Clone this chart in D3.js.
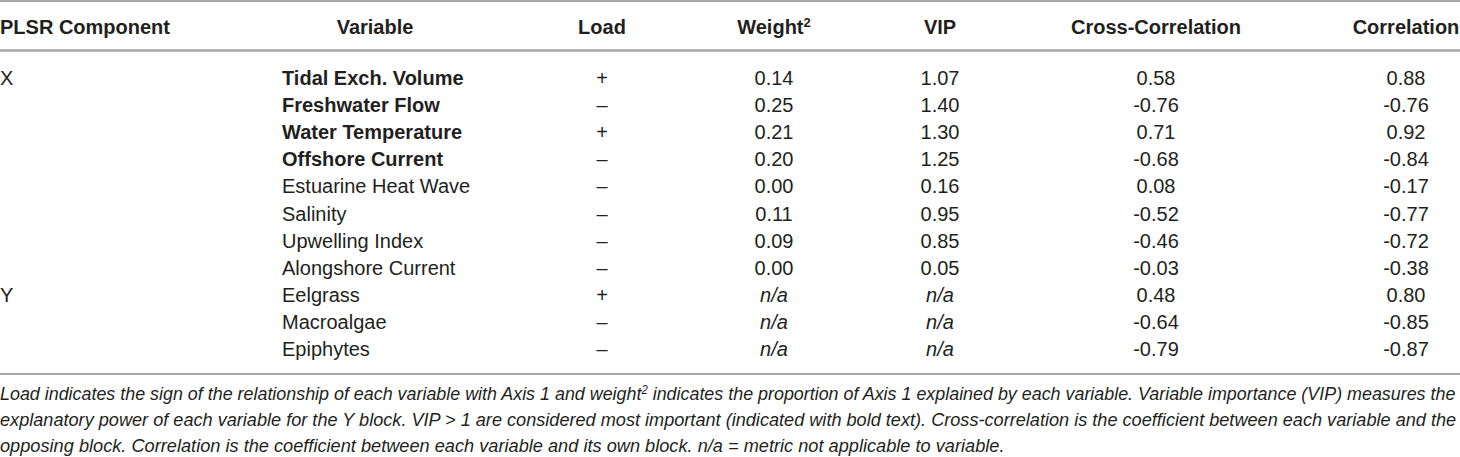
<!DOCTYPE html>
<html>
<head>
<meta charset="utf-8">
<script src="https://cdn.jsdelivr.net/npm/d3@7"></script>
<style>
  body { margin: 0; background: #fff; }
  svg text { font-family: "Liberation Sans", Arial, sans-serif; fill: #231f20; }
</style>
</head>
<body>
<div id="general"></div>
<script>
const w = 1460, h = 457;

// table data
const headers = ["PLSR Component", "Variable", "Load", "Weight", "VIP", "Cross-Correlation", "Correlation"];
const components = ["X", "X", "X", "X", "X", "X", "X", "X", "Y", "Y", "Y"];
const variables = ["Tidal Exch. Volume", "Freshwater Flow", "Water Temperature", "Offshore Current",
  "Estuarine Heat Wave", "Salinity", "Upwelling Index", "Alongshore Current",
  "Eelgrass", "Macroalgae", "Epiphytes"];
const loads = ["+", "–", "+", "–", "–", "–", "–", "–", "+", "–", "–"];
const weights = [0.14, 0.25, 0.21, 0.20, 0.00, 0.11, 0.09, 0.00, null, null, null];
const vips = [1.07, 1.40, 1.30, 1.25, 0.16, 0.95, 0.85, 0.05, null, null, null];
const crossCorr = [0.58, -0.76, 0.71, -0.68, 0.08, -0.52, -0.46, -0.03, 0.48, -0.64, -0.79];
const corr = [0.88, -0.76, 0.92, -0.84, -0.17, -0.77, -0.72, -0.38, 0.80, -0.85, -0.87];

const captionLines = [
  ["Load indicates the sign of the relationship of each variable with Axis 1 and weight", "2",
   " indicates the proportion of Axis 1 explained by each variable. Variable importance (VIP) measures the"],
  ["explanatory power of each variable for the Y block. VIP > 1 are considered most important (indicated with bold text). Cross-correlation is the coefficient between each variable and the"],
  ["opposing block. Correlation is the coefficient between each variable and its own block. n/a = metric not applicable to variable."]
];

const fmt = d3.formatLocale({ decimal: ".", thousands: ",", grouping: [3], currency: ["", ""], minus: "-" }).format(".2f");

const svg = d3.select("#general").append("svg")
  .attr("width", w).attr("height", h)
  .attr("viewBox", `0 0 ${w} ${h}`);

// column centres (first column is left aligned)
const colX = d3.scaleOrdinal().domain(headers).range([0, 375, 602, 774, 940, 1156, 1406]);
const rowY = d3.scalePoint().domain(d3.range(variables.length)).range([85, 356]);
const headerY = 34;
const fs = 20;

// rules
const rules = [
  { y: 1, c: "#a7a7a7", sw: 2 },
  { y: 50.5, c: "#a7a7a7", sw: 2.5 },
  { y: 374, c: "#8c8c8c", sw: 1.5 }
];
svg.selectAll(".rule").data(rules).join("line")
  .attr("x1", 0).attr("x2", w)
  .attr("y1", d => d.y).attr("y2", d => d.y)
  .attr("stroke", d => d.c).attr("stroke-width", d => d.sw);

// header
const head = svg.selectAll(".head").data(headers).join("text")
  .attr("x", d => colX(d))
  .attr("y", headerY)
  .attr("font-size", fs)
  .attr("font-weight", "bold")
  .attr("text-anchor", (d, i) => i === 0 ? "start" : "middle")
  .text(d => d);
head.filter(d => d === "Weight").append("tspan")
  .attr("font-size", 13)
  .attr("baseline-shift", "super")
  .text("2");

// body
const rows = d3.range(variables.length);
const g = svg.append("g").attr("font-size", fs);

g.selectAll(".comp").data(rows.filter(i => i === 0 || components[i] !== components[i - 1])).join("text")
  .attr("x", colX(headers[0]))
  .attr("y", i => rowY(i))
  .text(i => components[i]);

g.selectAll(".var").data(rows).join("text")
  .attr("x", 282)
  .attr("y", i => rowY(i))
  .attr("font-weight", i => vips[i] > 1 ? "bold" : null)
  .text(i => variables[i]);

const numCols = [
  { key: "Load", vals: loads, f: d => d },
  { key: "Weight", vals: weights, f: d => d == null ? "n/a" : fmt(d) },
  { key: "VIP", vals: vips, f: d => d == null ? "n/a" : fmt(d) },
  { key: "Cross-Correlation", vals: crossCorr, f: d => fmt(d) },
  { key: "Correlation", vals: corr, f: d => fmt(d) }
];
numCols.forEach(col => {
  g.selectAll(null).data(rows).join("text")
    .attr("x", colX(col.key))
    .attr("y", i => rowY(i))
    .attr("text-anchor", "middle")
    .attr("font-style", i => col.vals[i] == null ? "italic" : null)
    .text(i => col.f(col.vals[i]));
});

// caption, squeezed horizontally to the reference line widths
const capY = d3.scalePoint().domain(d3.range(captionLines.length)).range([400, 452]);
const capW = [1457, 1457, 1005];
captionLines.forEach((parts, li) => {
  const cg = svg.append("g");
  const t = cg.append("text")
    .attr("x", 0)
    .attr("y", capY(li))
    .attr("font-size", 19)
    .attr("font-style", "italic");
  parts.forEach((p, pi) => {
    const sp = t.append("tspan").text(p);
    if (parts.length === 3 && pi === 1) sp.attr("font-size", 12).attr("baseline-shift", "super");
  });
  const natural = t.node().getComputedTextLength();
  cg.attr("transform", `scale(${capW[li] / natural},1)`);
});
</script>
</body>
</html>
